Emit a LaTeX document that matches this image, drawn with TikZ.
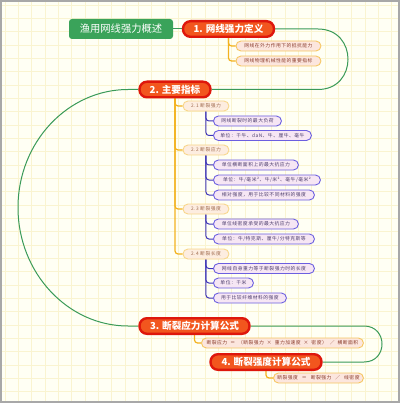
\documentclass[tikz,border=0pt]{standalone}
\usepackage{fontspec}
\setmainfont{Noto Sans CJK SC}
\newfontfamily\smallcjk{Noto Sans CJK SC}[LetterSpace=10]
\usetikzlibrary{calc}
\pgfdeclarelayer{background}
\pgfsetlayers{background,main}
\definecolor{bgc}{HTML}{FFFFF4}
\definecolor{gridc}{HTML}{FAF4D0}
\definecolor{bordc}{HTML}{A8A8A8}
\definecolor{rootg}{HTML}{3AA35A}
\definecolor{mred}{HTML}{DE170C}
\definecolor{morange}{HTML}{F2561E}
\definecolor{glinec}{HTML}{3A9A58}
\definecolor{olinec}{HTML}{F3B21F}
\definecolor{blinec}{HTML}{3F36B8}
\definecolor{leafafill}{HTML}{FCE6DE}
\definecolor{leafadraw}{HTML}{F6C661}
\definecolor{leafatext}{HTML}{8A3B2B}
\definecolor{subfill}{HTML}{FDEDE0}
\definecolor{subdraw}{HTML}{F8D68A}
\definecolor{subtext}{HTML}{A06B4F}
\definecolor{bfill}{HTML}{F6E6F4}
\definecolor{bdraw}{HTML}{6C5FE0}
\definecolor{btext}{HTML}{4E3F6E}
\newcommand{\opgap}{\hspace{3pt}}
\tikzset{
  rootbox/.style={fill=rootg, text=white, rounded corners=3, minimum width=104, minimum height=20, inner sep=0, font=\fontsize{10.3}{12}\selectfont},
  mainbox/.style={draw=mred, line width=2.4pt, fill=morange, text=white, rounded corners=7.5, minimum height=15.6, inner sep=0, font=\bfseries\fontsize{9.6}{11}\selectfont},
  leafbox/.style={draw=leafadraw, line width=0.9pt, fill=leafafill, text=leafatext, rounded corners=5, minimum height=10, inner sep=0, anchor=west, font=\smallcjk\fontsize{4.8}{6}\selectfont},
  subbox/.style={draw=subdraw, line width=0.9pt, fill=subfill, text=subtext, rounded corners=5, minimum height=10, minimum width=46, inner sep=0, anchor=west, font=\smallcjk\fontsize{4.8}{6}\selectfont},
  bluebox/.style={draw=bdraw, line width=0.9pt, fill=bfill, text=btext, rounded corners=5, minimum height=10, inner sep=0, anchor=west, font=\smallcjk\fontsize{4.8}{6}\selectfont},
  gline/.style={draw=glinec, line width=1pt},
  oline/.style={draw=olinec, line width=1.2pt, rounded corners=3},
  bline/.style={draw=blinec, line width=1pt, rounded corners=3},
}
\begin{document}
\begin{tikzpicture}[x=1pt,y=-1pt]
\useasboundingbox (0,0) rectangle (400,403);
% main topics
\node[rootbox] (root) at (121,29) {渔用网线强力概述};
\node[mainbox, minimum width=91] (n1) at (228.5,29) {1. 网线强力定义};
\node[mainbox, minimum width=71] (n2) at (175,89.5) {2. 主要指标};
\node[mainbox, minimum width=110] (n3) at (194.5,326) {3. 断裂应力计算公式};
\node[mainbox, minimum width=111] (n4) at (266,362) {4. 断裂强度计算公式};
% leaves of 1
\node[leafbox, minimum width=85] (l11) at (235.5,46) {网线在外力作用下的抵抗能力};
\node[leafbox, minimum width=85] (l12) at (235.5,61) {网线物理机械性能的重要指标};
% subtopics of 2
\node[subbox] (s21) at (182.5,106) {2.1 断裂强力};
\node[subbox] (s22) at (182.5,150) {2.2 断裂应力};
\node[subbox] (s23) at (182.5,209) {2.3 断裂强度};
\node[subbox] (s24) at (182.5,254) {2.4 断裂长度};
% blue leaves
\node[bluebox, minimum width=68] (b211) at (213,121) {网线断裂时的最大负荷};
\node[bluebox, minimum width=98] (b212) at (213,135.5) {单位：千牛、daN、牛、厘牛、毫牛};
\node[bluebox, minimum width=85] (b221) at (213,165) {单位横断面积上的最大抗应力};
\node[bluebox, minimum width=107] (b222) at (213,180) {单位：牛/毫米²、牛/米²、毫牛/毫米²};
\node[bluebox, minimum width=101] (b223) at (213,195) {相对强度，用于比较不同材料的强度};
\node[bluebox, minimum width=85] (b231) at (213,224) {单位线密度承受的最大抗应力};
\node[bluebox, minimum width=101] (b232) at (213,239) {单位：牛/特克斯、厘牛/分特克斯等};
\node[bluebox, minimum width=101] (b241) at (213,268.5) {网线自身重力等于断裂强力时的长度};
\node[bluebox, minimum width=40] (b242) at (213,283) {单位：千米};
\node[bluebox, minimum width=73] (b243) at (213,298) {用于比较纤维材料的强度};
% formula leaves
\node[leafbox, minimum width=162] (c3) at (201,343) {断裂应力\opgap{}＝\opgap{}（断裂强力\opgap{}×\opgap{}重力加速度\opgap{}×\opgap{}密度）\opgap{}／\opgap{}横断面积};
\node[leafbox, minimum width=90] (c4) at (273,378) {断裂强度\hspace{4pt}＝\hspace{4pt}断裂强力\hspace{4pt}／\hspace{4pt}线密度};
\begin{pgfonlayer}{background}
\fill[bgc] (0,0) rectangle (400,403);
\foreach \i in {0,...,30} {
  \draw[gridc, line width=0.8pt] (\i*13.33+5,0) -- (\i*13.33+5,403);
  \draw[gridc, line width=0.8pt] (0,\i*13.33+5) -- (400,\i*13.33+5);
}
\draw[bordc, line width=1.6pt] (0.8,0.8) rectangle (399.2,402.2);
% green connectors
\draw[gline] (root.east) -- (n1.west);
\draw[gline] (n1.east) -- (318,29) .. controls (358,29) and (358,89.5) .. (318,89.5) -- (n2.east);
\draw[gline] (n2.west) -- (128,89.5) .. controls (68,89.5) and (18,142) .. (18,207.5) .. controls (18,273) and (68,326) .. (128,326) -- (n3.west);
\draw[gline] (n3.east) -- (364,326) .. controls (388,326) and (388,362) .. (364,362) -- (n4.east);
% orange connectors
\draw[oline] (n1.south) |- (l11.west);
\draw[oline] (n1.south) |- (l12.west);
\draw[oline] (n2.south) |- (s21.west);
\draw[oline] (n2.south) |- (s22.west);
\draw[oline] (n2.south) |- (s23.west);
\draw[oline] (n2.south) |- (s24.west);
\draw[oline] (n3.south) |- (c3.west);
\draw[oline] (n4.south) |- (c4.west);
% blue connectors
\draw[bline] (s21.south) |- (b211.west);
\draw[bline] (s21.south) |- (b212.west);
\draw[bline] (s22.south) |- (b221.west);
\draw[bline] (s22.south) |- (b222.west);
\draw[bline] (s22.south) |- (b223.west);
\draw[bline] (s23.south) |- (b231.west);
\draw[bline] (s23.south) |- (b232.west);
\draw[bline] (s24.south) |- (b241.west);
\draw[bline] (s24.south) |- (b242.west);
\draw[bline] (s24.south) |- (b243.west);
\end{pgfonlayer}
\end{tikzpicture}
\end{document}
